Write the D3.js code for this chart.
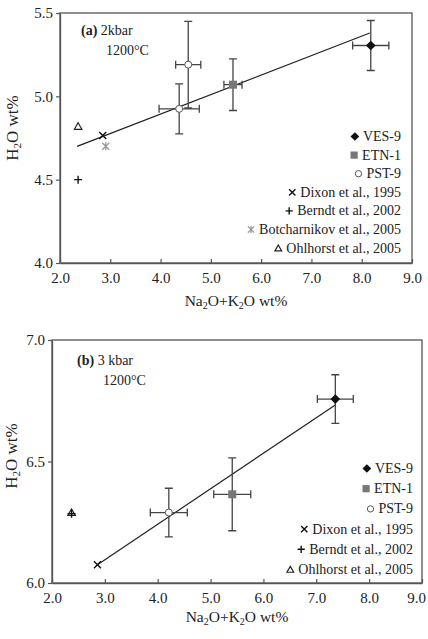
<!DOCTYPE html>
<html><head><meta charset="utf-8">
<script src="https://cdn.jsdelivr.net/npm/d3@7"></script>
<style>body{margin:0;background:#fff}svg{display:block}svg text{font-family:"Liberation Serif","DejaVu Serif",serif !important;fill:#222}</style>
</head><body><svg id="c" width="428" height="639"></svg>
<script>
// ---- Data ----
const xTicks = [2,3,4,5,6,7,8,9];
const yTicksA = [4.0,4.5,5.0,5.5];
const yTicksB = [6.0,6.5,7.0];

// Panel (a) 2 kbar: [x, y, xerr, yerr]
const vesA = [[8.18, 5.305, 0.36, 0.15]];
const etnA = [[5.44, 5.07, 0.18, 0.155]];
const pstA = [[4.55, 5.19, 0.25, 0.26],[4.37, 4.925, 0.40, 0.15]];
const dixonA = [[2.85, 4.765]];
const berndtA = [[2.36, 4.50]];
const botchA = [[2.91, 4.70]];
const ohlA = [[2.36, 4.82]];
const fitA = [[2.34, 4.70],[8.16, 5.38]];

// Panel (b) 3 kbar
const vesB = [[7.36, 6.757, 0.34, 0.10]];
const etnB = [[5.41, 6.365, 0.35, 0.15]];
const pstB = [[4.21, 6.29, 0.35, 0.10]];
const dixonB = [[2.86, 6.075]];
const berndtB = [[2.37, 6.285]];
const ohlB = [[2.37, 6.29]];
const fitB = [[2.86, 6.075],[7.36, 6.733]];

const legendA = ["VES-9","ETN-1","PST-9","Dixon et al., 1995","Berndt et al., 2002","Botcharnikov et al., 2005","Ohlhorst et al., 2005"];
const legendKeysA = ["ves","etn","pst","dixon","berndt","botch","ohl"];
const legendB = ["VES-9","ETN-1","PST-9","Dixon et al., 1995","Berndt et al., 2002","Ohlhorst et al., 2005"];
const legendKeysB = ["ves","etn","pst","dixon","berndt","ohl"];

const svg = d3.select("#c");
const AX = "#555";
const FF = "'Liberation Serif', 'DejaVu Serif', serif";

function marker(g, key, x, y, s) {
  s = s || 1;
  if (key === "ves") {
    g.append("path").attr("d", d3.symbol(d3.symbolDiamond2, 60*s*s)()).attr("transform",`translate(${x},${y})`).attr("fill","#111");
  } else if (key === "etn") {
    const w = 8*s; g.append("rect").attr("x",x-w/2).attr("y",y-w/2).attr("width",w).attr("height",w).attr("fill","#777");
  } else if (key === "pst") {
    g.append("circle").attr("cx",x).attr("cy",y).attr("r",3.5*s).attr("fill","#fff").attr("stroke","#555").attr("stroke-width",1);
  } else if (key === "dixon") {
    const d = 3.5*s;
    g.append("path").attr("d",`M${x-d},${y-d}L${x+d},${y+d}M${x-d},${y+d}L${x+d},${y-d}`).attr("stroke","#111").attr("stroke-width",1.4);
  } else if (key === "berndt") {
    const d = 4*s;
    g.append("path").attr("d",`M${x-d},${y}L${x+d},${y}M${x},${y-d}L${x},${y+d}`).attr("stroke","#111").attr("stroke-width",1.4);
  } else if (key === "botch") {
    const d = 3.5*s;
    g.append("path").attr("d",`M${x-d},${y-d}L${x+d},${y+d}M${x-d},${y+d}L${x+d},${y-d}M${x},${y-d-0.5}L${x},${y+d+0.5}`).attr("stroke","#999").attr("stroke-width",1.3);
  } else if (key === "ohl") {
    g.append("path").attr("d", d3.symbol(d3.symbolTriangle2, 40*s*s)()).attr("transform",`translate(${x},${y+0.8})`).attr("fill","none").attr("stroke","#222").attr("stroke-width",1.2);
  }
}

function panel(cfg) {
  const x = d3.scaleLinear().domain([2,9]).range(cfg.xr);
  const y = d3.scaleLinear().domain(cfg.yd).range(cfg.yr);
  const g = svg.append("g");
  g.append("rect").attr("x",cfg.xr[0]).attr("y",cfg.yr[1]).attr("width",cfg.xr[1]-cfg.xr[0]).attr("height",cfg.yr[0]-cfg.yr[1])
    .attr("fill","none").attr("stroke",AX).attr("stroke-width",1.3);
  const xa = g.append("g").attr("transform",`translate(0,${cfg.yr[0]})`)
    .call(d3.axisBottom(x).tickValues(xTicks).tickFormat(d3.format(".1f")).tickSizeInner(-4).tickSizeOuter(0).tickPadding(9));
  xa.attr("font-family", null);
  xa.select(".domain").attr("stroke",AX).attr("stroke-width",1.3);
  xa.selectAll(".tick line").attr("stroke",AX).attr("stroke-width",1.2);
  xa.selectAll("text").attr("font-size",15).attr("fill","#222").style("font-family",FF);
  if (cfg.shiftLast) xa.selectAll(".tick text").filter(d => d === 9).attr("dx", -cfg.shiftLast);
  const ya = g.append("g").attr("transform",`translate(${cfg.xr[0]},0)`)
    .call(d3.axisLeft(y).tickValues(cfg.yt).tickFormat(d3.format(".1f")).tickSizeInner(4).tickSizeOuter(0).tickPadding(3));
  ya.attr("font-family", null);
  ya.select(".domain").attr("stroke",AX).attr("stroke-width",1.3);
  ya.selectAll(".tick line").attr("stroke",AX).attr("stroke-width",1.2);
  ya.selectAll("text").attr("font-size",15).attr("fill","#222").style("font-family",FF);

  const xt = g.append("text").attr("x",cfg.xlx).attr("y",cfg.xly).attr("text-anchor","middle").attr("font-size",15.5).style("font-family",FF);
  xt.append("tspan").text("Na");
  xt.append("tspan").text("2").attr("font-size",10).attr("dy",3);
  xt.append("tspan").text("O+K").attr("dy",-3);
  xt.append("tspan").text("2").attr("font-size",10).attr("dy",3);
  xt.append("tspan").text("O wt%").attr("dy",-3);
  const yt = g.append("text").attr("transform",`translate(${cfg.ylx},${cfg.yly}) rotate(-90)`).attr("text-anchor","middle").attr("font-size",cfg.ylfs).style("font-family",FF);
  yt.append("tspan").text("H");
  yt.append("tspan").text("2").attr("font-size",11).attr("dy",3);
  yt.append("tspan").text("O wt%").attr("dy",-3);

  const an = g.append("text").attr("x",cfg.anx).attr("y",cfg.any).attr("font-size",14).style("font-family",FF);
  an.append("tspan").text("(" + cfg.letter + ")").attr("font-weight","bold");
  an.append("tspan").text(" " + cfg.p);
  g.append("text").attr("x",cfg.anx2).attr("y",cfg.any+20).attr("font-size",14).style("font-family",FF).text("1200°C");

  g.append("path").datum(cfg.fit).attr("d", d3.line().x(d=>x(d[0])).y(d=>y(d[1]))).attr("stroke","#222").attr("stroke-width",1.2).attr("fill","none");

  const eb = g.append("g").attr("stroke","#444").attr("stroke-width",1.3).attr("fill","none");
  const errs = [].concat(cfg.ves, cfg.etn, cfg.pst);
  errs.forEach(d => {
    const cx = x(d[0]), cy = y(d[1]), x0 = x(d[0]-d[2]), x1 = x(d[0]+d[2]), y0 = y(d[1]-d[3]), y1 = y(d[1]+d[3]);
    eb.append("path").attr("d",`M${x0},${cy}L${x1},${cy}M${x0},${cy-4}L${x0},${cy+4}M${x1},${cy-4}L${x1},${cy+4}`);
    eb.append("path").attr("d",`M${cx},${y0}L${cx},${y1}M${cx-4},${y0}L${cx+4},${y0}M${cx-4},${y1}L${cx+4},${y1}`);
  });
  const sets = [["ohl",cfg.ohl],["berndt",cfg.berndt],["botch",cfg.botch||[]],["dixon",cfg.dixon],["etn",cfg.etn],["pst",cfg.pst],["ves",cfg.ves]];
  sets.forEach(([k,arr]) => arr.forEach(d => marker(g,k,x(d[0]),y(d[1]))));

  cfg.legend.forEach((t,i) => {
    const ly = cfg.ly0 + i*cfg.ldy;
    const tx = g.append("text").attr("x",cfg.lx).attr("y",ly+5).attr("text-anchor","end").attr("font-size",14).style("font-family",FF).text(t);
    const w = tx.node().getComputedTextLength();
    marker(g, cfg.lkeys[i], cfg.lx - w - 8, ly + 0.5, 0.9);
  });
}

panel({xr:[60,412], yd:[4.0,5.5], yr:[263,13], yt:yTicksA, ves:vesA, etn:etnA, pst:pstA, dixon:dixonA, berndt:berndtA, botch:botchA, ohl:ohlA, fit:fitA,
  xlx:236, xly:306, ylx:18, yly:128, ylfs:17, anx:81, any:35, anx2:106, letter:"a", p:"2kbar",
  legend:legendA, lkeys:legendKeysA, lx:401, ly0:136, ldy:18.6});
panel({xr:[52,422], yd:[6.0,7.0], yr:[583,340], yt:yTicksB, ves:vesB, etn:etnB, pst:pstB, dixon:dixonB, berndt:berndtB, ohl:ohlB, fit:fitB,
  xlx:237, xly:622, ylx:17, yly:456, ylfs:17, anx:77, any:365, anx2:103, letter:"b", p:"3 kbar", shiftLast:6,
  legend:legendB, lkeys:legendKeysB, lx:413, ly0:468, ldy:20.2});
</script></body></html>
